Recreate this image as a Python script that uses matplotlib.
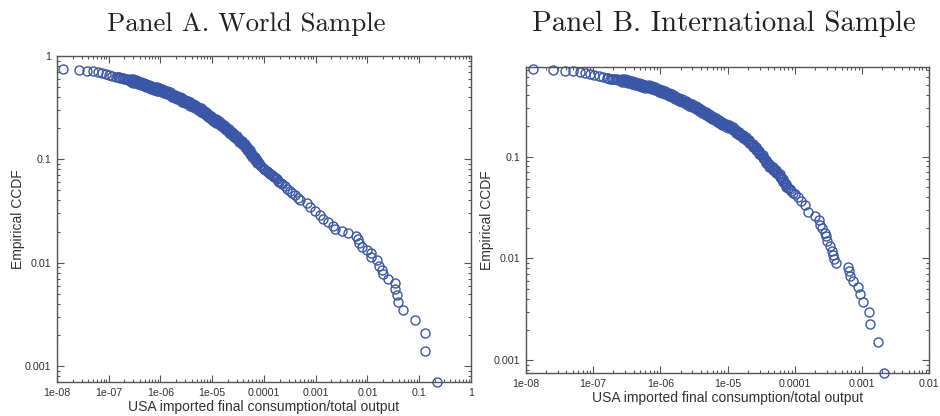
import numpy as np
import matplotlib
matplotlib.use("Agg")
import matplotlib.pyplot as plt
from matplotlib.ticker import FixedLocator, FixedFormatter, LogLocator, NullFormatter

# values, stored as log10(x), log10(ccdf)
world_logx = [-7.89, -7.58, -7.42, -7.31, -7.21, -7.13, -7.06, -7.00, -6.93,
              -6.850, -6.825, -6.800, -6.775, -6.750, -6.725, -6.700, -6.675, -6.650, -6.625,
              -6.600, -6.575, -6.550, -6.525, -6.500, -6.475, -6.450, -6.425, -6.400, -6.375,
              -6.350, -6.325, -6.300, -6.275, -6.250, -6.225, -6.200, -6.175, -6.150, -6.125,
              -6.100, -6.075, -6.050, -6.025, -6.000, -5.975, -5.950, -5.925, -5.900, -5.875,
              -5.850, -5.825, -5.800, -5.775, -5.750, -5.725, -5.700, -5.675, -5.650, -5.625,
              -5.600, -5.575, -5.550, -5.525, -5.500, -5.475, -5.450, -5.425, -5.400, -5.375,
              -5.350, -5.325, -5.300, -5.275, -5.250, -5.225, -5.200, -5.175, -5.150, -5.125,
              -5.100, -5.075, -5.050, -5.025, -5.000, -4.975, -4.950, -4.925, -4.900, -4.875,
              -4.850, -4.825, -4.800, -4.775, -4.750, -4.725, -4.700, -4.675, -4.650, -4.625,
              -4.600, -4.575, -4.550, -4.525, -4.500, -4.475, -4.450, -4.425, -4.400, -4.375,
              -4.350, -4.325, -4.300, -4.275, -4.250, -4.225, -4.200, -4.175, -4.150, -4.125,
              -4.100, -4.075, -4.050, -4.025, -4.000, -3.975, -3.950, -3.925, -3.900, -3.875,
              -3.850, -3.825, -3.800, -3.775, -3.750, -3.725, -3.700, -3.675, -3.650, -3.600,
              -3.550, -3.500, -3.450, -3.400, -3.350, -3.300,
              -3.174, -3.110, -3.014, -2.917, -2.853, -2.757, -2.666, -2.627, -2.498,
              -2.382, -2.222, -2.178, -2.158, -2.112, -2.015, -1.932, -1.932, -1.822,
              -1.784, -1.726, -1.707, -1.610, -1.469, -1.463, -1.425, -1.417, -1.320,
              -1.083, -0.890, -0.890, -0.664]
world_logy = [-0.124, -0.131, -0.141, -0.148, -0.154, -0.160, -0.170, -0.180, -0.191,
              -0.200, -0.203, -0.206, -0.209, -0.212, -0.215, -0.218, -0.222, -0.226, -0.230,
              -0.234, -0.236, -0.239, -0.242, -0.245, -0.249, -0.253, -0.258, -0.262, -0.267,
              -0.271, -0.276, -0.280, -0.285, -0.289, -0.293, -0.297, -0.302, -0.306, -0.311,
              -0.315, -0.319, -0.323, -0.328, -0.332, -0.337, -0.342, -0.347, -0.352, -0.357,
              -0.362, -0.367, -0.372, -0.378, -0.384, -0.390, -0.396, -0.402, -0.408, -0.414,
              -0.420, -0.426, -0.432, -0.438, -0.445, -0.452, -0.459, -0.465, -0.472, -0.479,
              -0.486, -0.493, -0.500, -0.507, -0.515, -0.523, -0.532, -0.540, -0.549, -0.558,
              -0.567, -0.576, -0.585, -0.594, -0.603, -0.611, -0.620, -0.629, -0.638, -0.647,
              -0.656, -0.666, -0.676, -0.686, -0.696, -0.706, -0.716, -0.726, -0.736, -0.747,
              -0.759, -0.770, -0.781, -0.792, -0.804, -0.816, -0.828, -0.841, -0.855, -0.869,
              -0.884, -0.899, -0.914, -0.929, -0.944, -0.959, -0.975, -0.992, -1.010, -1.025,
              -1.040, -1.054, -1.068, -1.080, -1.092, -1.102, -1.112, -1.121, -1.130, -1.140,
              -1.150, -1.161, -1.172, -1.183, -1.195, -1.207, -1.218, -1.229, -1.240, -1.262,
              -1.285, -1.307, -1.328, -1.350, -1.372, -1.393,
              -1.425, -1.458, -1.496, -1.538, -1.579, -1.602, -1.644, -1.676, -1.689,
              -1.714, -1.740, -1.772, -1.811, -1.844, -1.875, -1.902, -1.946, -1.979,
              -2.037, -2.075, -2.110, -2.155, -2.197, -2.252, -2.310, -2.378, -2.455,
              -2.552, -2.680, -2.857, -3.150]

# upper and lower edges of the solid band (same x for both)
band_logx = [-6.575, -6.525, -6.475, -6.425, -6.375, -6.325, -6.275, -6.225, -6.175, -6.125,
             -6.075, -6.025, -5.975, -5.925, -5.875, -5.825, -5.775, -5.725, -5.675, -5.625,
             -5.575, -5.525, -5.475, -5.425, -5.375, -5.325, -5.275, -5.225, -5.175, -5.125,
             -5.075, -5.025, -4.975, -4.925, -4.875, -4.825, -4.775, -4.725, -4.675, -4.625,
             -4.575, -4.525, -4.475, -4.425, -4.375, -4.325, -4.275, -4.225, -4.175, -4.125]
world_up_logy = [-0.221, -0.227, -0.234, -0.243, -0.252, -0.261, -0.270, -0.278, -0.287, -0.296,
                 -0.304, -0.313, -0.322, -0.332, -0.342, -0.352, -0.363, -0.375, -0.387, -0.399,
                 -0.411, -0.423, -0.437, -0.450, -0.464, -0.478, -0.492, -0.508, -0.525, -0.543,
                 -0.561, -0.579, -0.596, -0.614, -0.632, -0.651, -0.671, -0.691, -0.711, -0.732,
                 -0.755, -0.777, -0.801, -0.826, -0.854, -0.884, -0.914, -0.944, -0.977, -1.010]
world_lo_logy = [-0.251, -0.257, -0.264, -0.273, -0.282, -0.291, -0.300, -0.308, -0.317, -0.326,
                 -0.334, -0.343, -0.352, -0.362, -0.372, -0.382, -0.393, -0.405, -0.417, -0.429,
                 -0.441, -0.453, -0.467, -0.480, -0.494, -0.508, -0.522, -0.538, -0.555, -0.573,
                 -0.591, -0.609, -0.626, -0.644, -0.662, -0.681, -0.701, -0.721, -0.741, -0.762,
                 -0.785, -0.807, -0.831, -0.856, -0.884, -0.914, -0.944, -0.974, -1.007, -1.040]

intl_logx = [-7.902, -7.598, -7.426, -7.301, -7.202, -7.118, -7.043, -6.984, -6.920, -6.854,
             -6.800, -6.775, -6.750, -6.725, -6.700, -6.675, -6.650, -6.625, -6.600, -6.575,
             -6.550, -6.525, -6.500, -6.475, -6.450, -6.425, -6.400, -6.375, -6.350, -6.325,
             -6.300, -6.275, -6.250, -6.225, -6.200, -6.175, -6.150, -6.125, -6.100, -6.075,
             -6.050, -6.025, -6.000, -5.975, -5.950, -5.925, -5.900, -5.875, -5.850, -5.825,
             -5.800, -5.775, -5.750, -5.725, -5.700, -5.675, -5.650, -5.625, -5.600, -5.575,
             -5.550, -5.525, -5.500, -5.475, -5.450, -5.425, -5.400, -5.375, -5.350, -5.325,
             -5.300, -5.275, -5.250, -5.225, -5.200, -5.175, -5.150, -5.125, -5.100, -5.075,
             -5.050, -5.025, -5.000, -4.975, -4.950, -4.925, -4.900, -4.875, -4.850, -4.825,
             -4.800, -4.775, -4.750, -4.725, -4.700, -4.675, -4.650, -4.625, -4.600, -4.575,
             -4.550, -4.525, -4.500, -4.475, -4.450, -4.425, -4.400, -4.375, -4.350, -4.325,
             -4.300, -4.275, -4.250, -4.225, -4.200, -4.175, -4.150, -4.125, -4.100, -4.075,
             -4.050, -4.025, -4.000, -3.950, -3.900, -3.850, -3.800,
             -3.695, -3.631, -3.621, -3.595, -3.546, -3.531, -3.512, -3.472, -3.446,
             -3.423, -3.408, -3.382, -3.199, -3.193, -3.174, -3.125, -3.051, -3.025,
             -2.976, -2.887, -2.876, -2.762, -2.664]
intl_logy = [-0.140, -0.150, -0.157, -0.163, -0.173, -0.182, -0.192, -0.199, -0.209, -0.219,
             -0.231, -0.233, -0.235, -0.237, -0.239, -0.241, -0.243, -0.245, -0.248, -0.251,
             -0.255, -0.258, -0.262, -0.265, -0.269, -0.273, -0.277, -0.282, -0.286, -0.290,
             -0.294, -0.299, -0.303, -0.308, -0.312, -0.317, -0.321, -0.326, -0.330, -0.336,
             -0.343, -0.349, -0.356, -0.362, -0.369, -0.375, -0.382, -0.389, -0.396, -0.404,
             -0.412, -0.420, -0.428, -0.436, -0.445, -0.453, -0.461, -0.469, -0.477, -0.485,
             -0.494, -0.502, -0.510, -0.518, -0.527, -0.536, -0.545, -0.555, -0.566, -0.577,
             -0.588, -0.599, -0.610, -0.621, -0.631, -0.641, -0.651, -0.660, -0.668, -0.676,
             -0.684, -0.692, -0.700, -0.707, -0.715, -0.727, -0.740, -0.752, -0.765, -0.777,
             -0.790, -0.802, -0.815, -0.827, -0.840, -0.856, -0.873, -0.889, -0.906, -0.923,
             -0.940, -0.961, -0.983, -1.004, -1.026, -1.047, -1.068, -1.085, -1.101, -1.118,
             -1.134, -1.151, -1.168, -1.189, -1.210, -1.236, -1.263, -1.284, -1.305, -1.322,
             -1.340, -1.355, -1.370, -1.400, -1.435, -1.480, -1.540,
             -1.588, -1.621, -1.670, -1.702, -1.751, -1.784, -1.833, -1.882, -1.931,
             -1.964, -2.006, -2.045, -2.084, -2.124, -2.170, -2.225, -2.280, -2.349,
             -2.428, -2.526, -2.647, -2.824, -3.124]
intl_up_logy = [-0.236, -0.243, -0.250, -0.258, -0.267, -0.275, -0.284, -0.293, -0.302, -0.311,
                -0.321, -0.334, -0.347, -0.360, -0.374, -0.389, -0.405, -0.421, -0.438, -0.454,
                -0.470, -0.487, -0.503, -0.521, -0.540, -0.562, -0.584, -0.606, -0.626, -0.645,
                -0.661, -0.677, -0.692, -0.712, -0.737, -0.762, -0.787, -0.812, -0.841, -0.874,
                -0.908, -0.946, -0.989, -1.032, -1.070, -1.103, -1.136, -1.174, -1.221, -1.269]
intl_lo_logy = [-0.266, -0.273, -0.280, -0.288, -0.297, -0.305, -0.314, -0.323, -0.332, -0.341,
                -0.351, -0.364, -0.377, -0.390, -0.404, -0.419, -0.435, -0.451, -0.468, -0.484,
                -0.500, -0.517, -0.533, -0.551, -0.570, -0.592, -0.614, -0.636, -0.656, -0.675,
                -0.691, -0.707, -0.722, -0.742, -0.767, -0.792, -0.817, -0.842, -0.871, -0.904,
                -0.938, -0.976, -1.019, -1.062, -1.100, -1.133, -1.166, -1.204, -1.251, -1.299]

xticks_a = [1e-8, 1e-7, 1e-6, 1e-5, 1e-4, 1e-3, 1e-2, 1e-1, 1]
xlabels_a = ['1e-08', '1e-07', '1e-06', '1e-05', '0.0001', '0.001', '0.01', '0.1', '1']
xticks_b = [1e-8, 1e-7, 1e-6, 1e-5, 1e-4, 1e-3, 1e-2]
xlabels_b = ['1e-08', '1e-07', '1e-06', '1e-05', '0.0001', '0.001', '0.01']
yticks = [0.001, 0.01, 0.1, 1]
ylabels = ['0.001', '0.01', '0.1', '1']

blue = '#3a57a7'
grey = '#555555'
sans = ['Liberation Sans', 'DejaVu Sans']

fig = plt.figure(figsize=(9.4, 4.16), dpi=100)
ax_a = fig.add_axes([0.0606, 0.0817, 0.4404, 0.7837])
ax_b = fig.add_axes([0.5596, 0.1034, 0.4287, 0.7356])


def style(ax, xt, xl, xlim, ylim):
    ax.set_xscale('log')
    ax.set_yscale('log')
    ax.set_xlim(xlim)
    ax.set_ylim(ylim)
    ax.xaxis.set_major_locator(FixedLocator(xt))
    ax.xaxis.set_major_formatter(FixedFormatter(xl))
    ax.yaxis.set_major_locator(FixedLocator(yticks))
    ax.yaxis.set_major_formatter(FixedFormatter(ylabels))
    ax.xaxis.set_minor_locator(LogLocator(base=10, subs=np.arange(2, 10), numticks=20))
    ax.yaxis.set_minor_locator(LogLocator(base=10, subs=np.arange(2, 10), numticks=20))
    ax.xaxis.set_minor_formatter(NullFormatter())
    ax.yaxis.set_minor_formatter(NullFormatter())
    ax.tick_params(which='both', direction='in', top=True, right=True,
                   color=grey, labelcolor='#333333', labelsize=7.7, width=0.8)
    ax.tick_params(which='major', length=5, pad=4)
    ax.tick_params(which='minor', length=2.5)
    for lab in ax.get_xticklabels() + ax.get_yticklabels():
        lab.set_family(sans)
    for s in ax.spines.values():
        s.set_color(grey)
        s.set_linewidth(1.0)
    ax.set_xlabel('USA imported final consumption/total output', family=sans,
                  fontsize=10, color='#333333', labelpad=2)
    ax.set_ylabel('Empirical CCDF', family=sans, fontsize=10, color='#333333', labelpad=0)


def ccdf(ax, lx, ly, ux, uy, dy):
    xs = np.power(10.0, np.concatenate([lx, ux, ux]))
    ys = np.power(10.0, np.concatenate([ly, uy, dy]))
    ax.plot(xs, ys, 'o', ls='none', mfc='none', mec=blue, ms=6.5, mew=1.0, clip_on=False)


ccdf(ax_a, world_logx, world_logy, band_logx, world_up_logy, world_lo_logy)
ccdf(ax_b, intl_logx, intl_logy, band_logx, intl_up_logy, intl_lo_logy)

style(ax_a, xticks_a, xlabels_a, (1e-8, 1), (7.0e-4, 1))
style(ax_b, xticks_b, xlabels_b, (1e-8, 1e-2), (7.5e-4, 0.757))

fig.text(0.2617, 0.925, 'Panel A. World Sample', family='cmr10', fontsize=19.3,
         ha='center', va='baseline', color='#222222')
fig.text(0.7700, 0.925, 'Panel B. International Sample', family='cmr10', fontsize=20.8,
         ha='center', va='baseline', color='#222222')

fig.savefig('out.png', dpi=100)
